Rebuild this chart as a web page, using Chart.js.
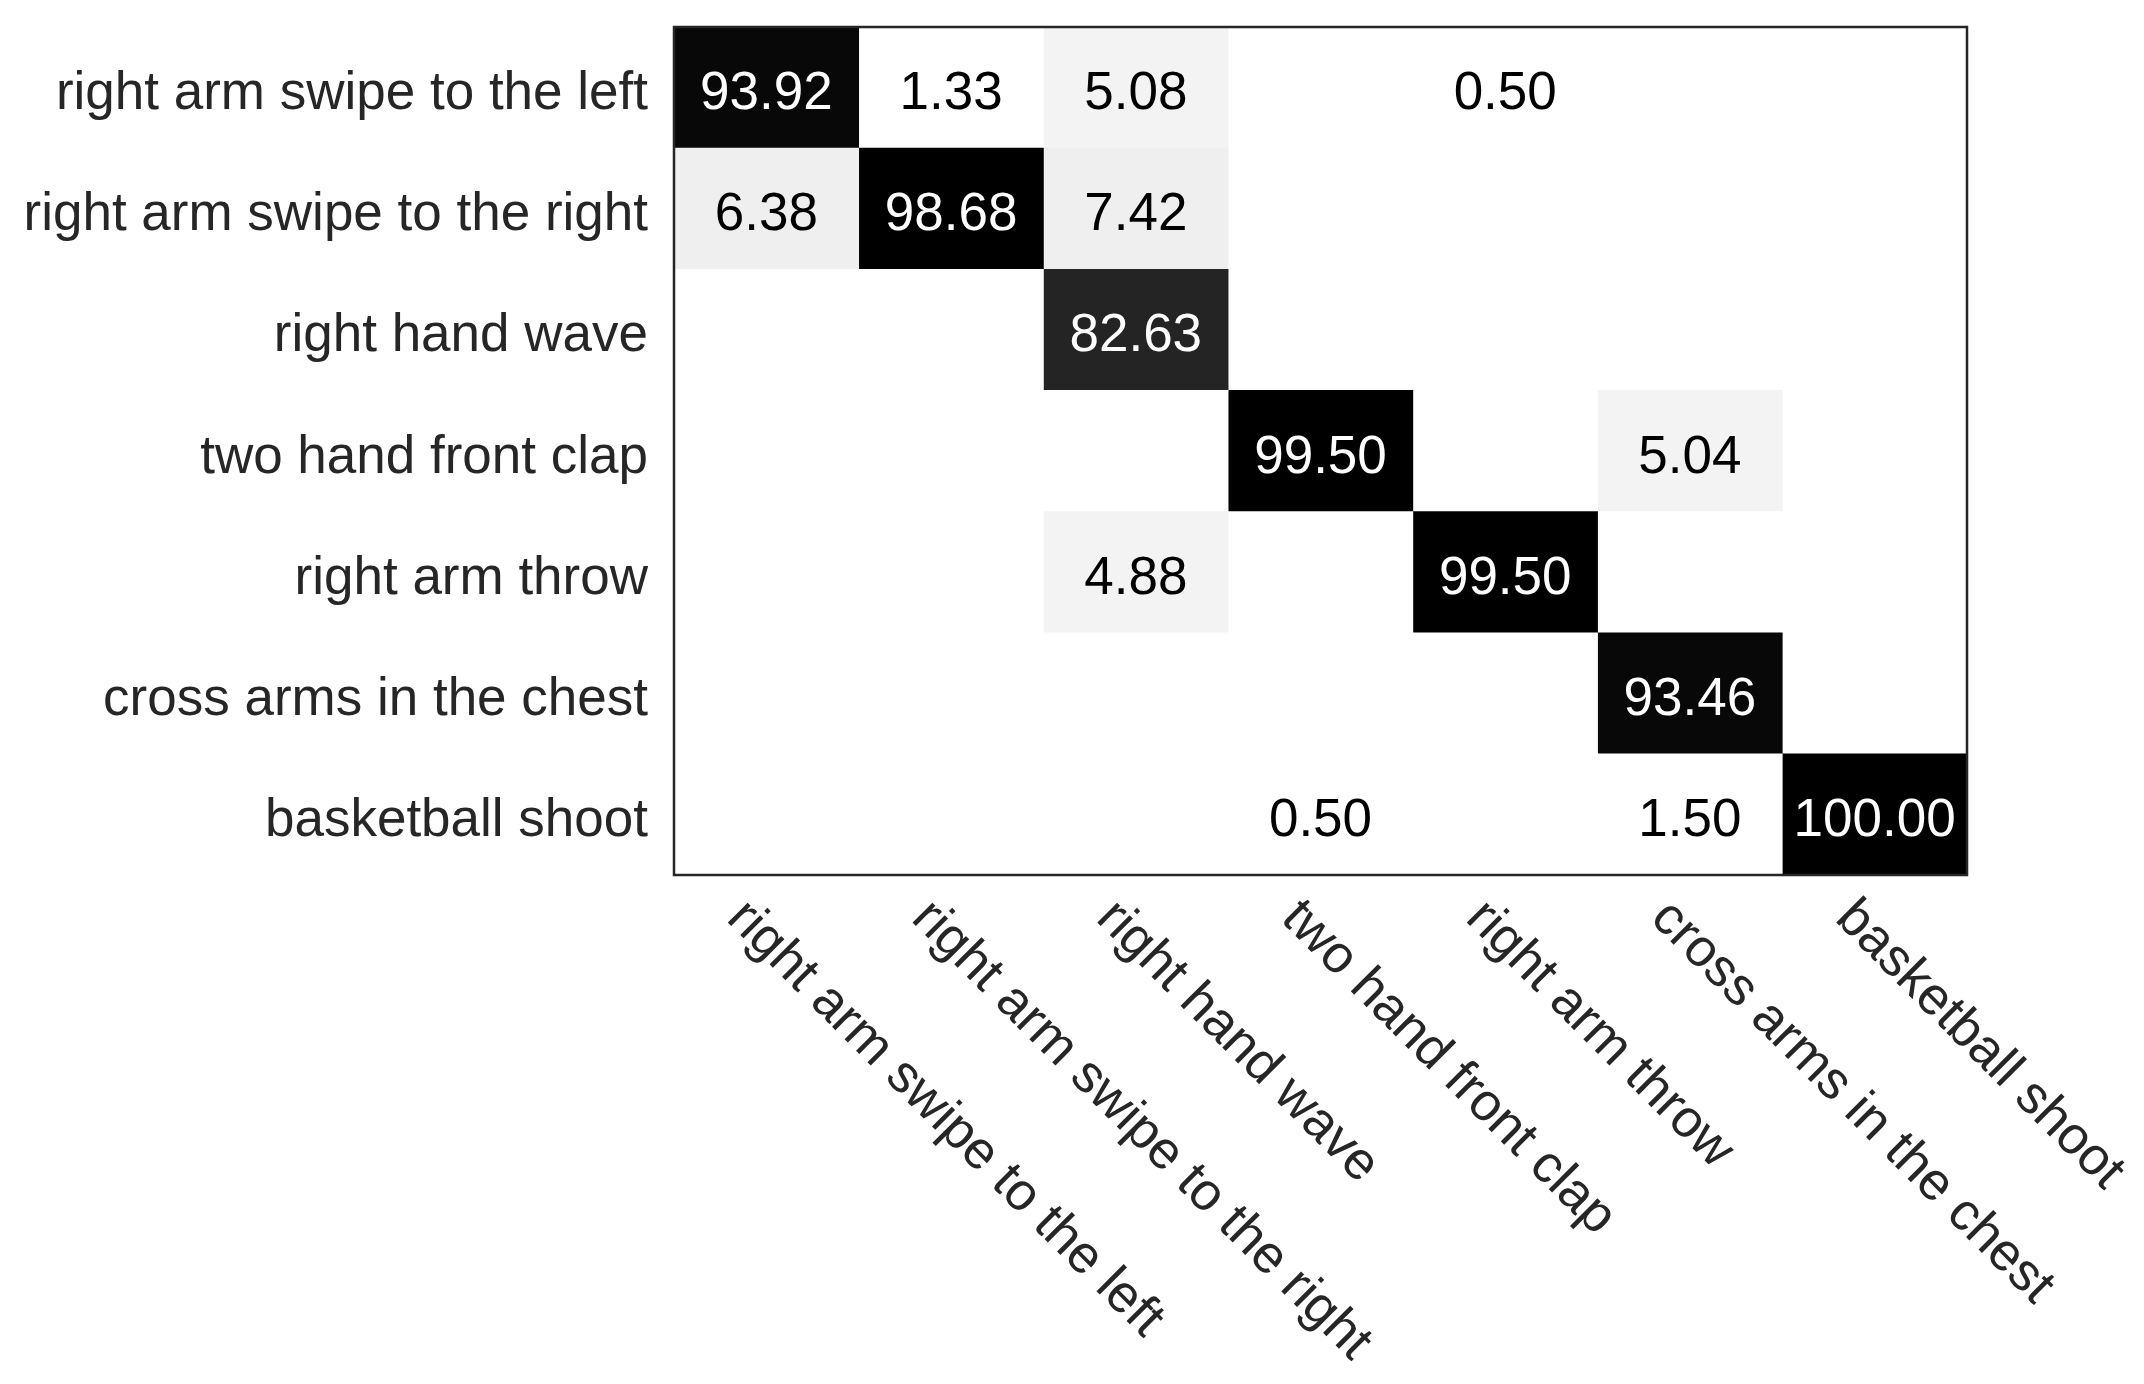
<!DOCTYPE html>
<html>
<head>
<meta charset="utf-8">
<script src="https://cdn.jsdelivr.net/npm/chart.js@4/dist/chart.umd.min.js"></script>
<style>
  html, body { margin: 0; padding: 0; background: #fff; }
  #wrap { width: 2144px; height: 1384px; }
</style>
</head>
<body>
<div id="wrap"><canvas id="confChart" width="2144" height="1384"></canvas></div>
<script>
// class names (rows = predicted, columns = true class)
const classes = [
    'right arm swipe to the left',
    'right arm swipe to the right',
    'right hand wave',
    'two hand front clap',
    'right arm throw',
    'cross arms in the chest',
    'basketball shoot'
];

// one array per row of the matrix, in percent
const rowSwipeLeft  = [93.92, 1.33, 5.08, 0, 0.50, 0, 0];
const rowSwipeRight = [6.38, 98.68, 7.42, 0, 0, 0, 0];
const rowHandWave   = [0, 0, 82.63, 0, 0, 0, 0];
const rowFrontClap  = [0, 0, 0, 99.50, 0, 5.04, 0];
const rowArmThrow   = [0, 0, 4.88, 0, 99.50, 0, 0];
const rowCrossArms  = [0, 0, 0, 0, 0, 93.46, 0];
const rowBasketball = [0, 0, 0, 0.50, 0, 1.50, 100.00];

const matrix = [rowSwipeLeft, rowSwipeRight, rowHandWave, rowFrontClap, rowArmThrow, rowCrossArms, rowBasketball];

const FONT = '"Liberation Sans", Arial, Helvetica, sans-serif';
const TEXT_COLOR = '#262626';

// inverted 64-step gray colormap, saturating a bit below 100
const CMAP_LEVELS = 64;
const CMAP_TOP = 97;
function grayFor(v) {
    const idx = Math.min(CMAP_LEVELS - 1, Math.floor(v / CMAP_TOP * CMAP_LEVELS));
    const g = Math.round(255 * (1 - idx / (CMAP_LEVELS - 1)));
    return `rgb(${g}, ${g}, ${g})`;
}

// each column becomes one dataset of floating bars spanning [j, j+1]
const datasets = classes.map((name, j) => ({
    label: name,
    data: matrix.map(() => [j, j + 1]),
    values: matrix.map(row => row[j]),
    backgroundColor: matrix.map(row => grayFor(row[j])),
    borderWidth: 0,
    barPercentage: 1,
    categoryPercentage: 1
}));

const cellText = {
    id: 'cellText',
    afterDatasetsDraw(chart) {
        const ctx = chart.ctx;
        ctx.save();
        ctx.font = '53px ' + FONT;
        ctx.textAlign = 'center';
        ctx.textBaseline = 'middle';
        chart.data.datasets.forEach((ds, j) => {
            const meta = chart.getDatasetMeta(j);
            meta.data.forEach((bar, i) => {
                const v = ds.values[i];
                if (!v) return;
                const c = bar.getCenterPoint();
                ctx.fillStyle = v > 50 ? '#ffffff' : '#000000';
                ctx.fillText(v.toFixed(2), c.x, c.y + 7);
            });
        });
        ctx.restore();
    }
};

// box round the plot and the slanted class names under it
const frameAndLabels = {
    id: 'frameAndLabels',
    afterDraw(chart) {
        const ctx = chart.ctx;
        const area = chart.chartArea;
        const xScale = chart.scales.x;
        ctx.save();
        ctx.strokeStyle = TEXT_COLOR;
        ctx.lineWidth = 2.5;
        ctx.strokeRect(area.left, area.top, area.right - area.left, area.bottom - area.top);

        ctx.font = '53px ' + FONT;
        ctx.fillStyle = TEXT_COLOR;
        ctx.textAlign = 'left';
        ctx.textBaseline = 'alphabetic';
        classes.forEach((name, j) => {
            const x = xScale.getPixelForValue(j + 0.5);
            ctx.save();
            ctx.translate(x - 41, area.bottom + 45);
            ctx.rotate(Math.PI / 4);
            ctx.fillText(name, 0, 0);
            ctx.restore();
        });
        ctx.restore();
    }
};

new Chart(document.getElementById('confChart'), {
    type: 'bar',
    data: { labels: classes, datasets: datasets },
    options: {
        indexAxis: 'y',
        responsive: false,
        animation: false,
        grouped: false,
        layout: { padding: { top: 27, right: 177, left: 0, bottom: 0 } },
        plugins: {
            legend: { display: false },
            tooltip: { enabled: false }
        },
        scales: {
            x: {
                type: 'linear',
                min: 0,
                max: classes.length,
                grid: { display: false },
                border: { display: false },
                ticks: { display: false },
                afterFit(scale) {
                    scale.height = 509;
                    scale.paddingLeft = 0;
                    scale.paddingRight = 0;
                }
            },
            y: {
                type: 'category',
                grid: { display: false, drawTicks: false },
                border: { display: false },
                ticks: {
                    color: TEXT_COLOR,
                    font: { size: 53, family: FONT },
                    padding: 26,
                    labelOffset: 7
                },
                afterFit(scale) {
                    scale.width = 674;
                    scale.paddingTop = 0;
                    scale.paddingBottom = 0;
                }
            }
        }
    },
    plugins: [cellText, frameAndLabels]
});
</script>
</body>
</html>
